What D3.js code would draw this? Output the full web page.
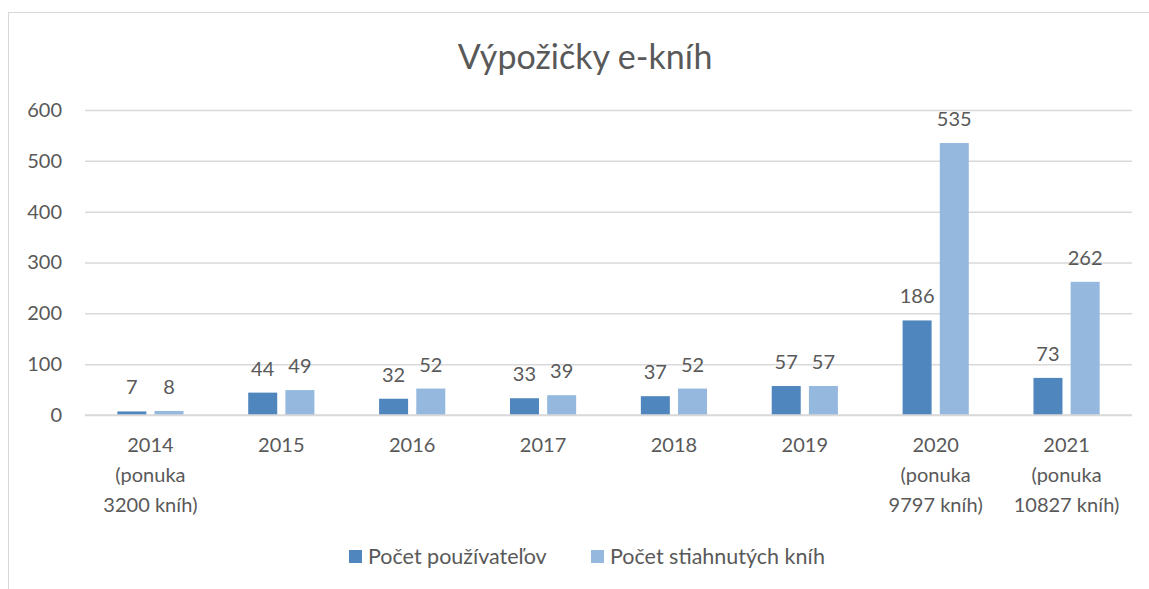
<!DOCTYPE html>
<html><head><meta charset="utf-8">
<script src="https://cdn.jsdelivr.net/npm/d3@7"></script>
<style>body{margin:0;background:#fff}svg text{font-family:Lato,"Open Sans",sans-serif;fill:#595959}</style>
</head><body><svg id="c" width="1149" height="589"></svg>
<script>
const categories = [["2014","(ponuka","3200 kníh)"],["2015"],["2016"],["2017"],["2018"],["2019"],["2020","(ponuka","9797 kníh)"],["2021","(ponuka","10827 kníh)"]];
const seriesNames = ["Počet používateľov","Počet stiahnutých kníh"];
const users = [7,44,32,33,37,57,186,73];
const downloads = [8,49,52,39,52,57,535,262];
const yTicks = [0,100,200,300,400,500,600];
const colors = ["#4f86bd","#95b8df"];

const svg = d3.select("#c");
svg.append("rect").attr("x",8.5).attr("y",12.5).attr("width",1160).attr("height",600).attr("fill","none").attr("stroke","#d9d9d9");

const x0 = d3.scaleBand().domain(d3.range(categories.length)).range([85,1132]);
const x1 = d3.scaleBand().domain([0,1]).range([0,x0.bandwidth()]).paddingInner(0.22).paddingOuter(0.87);
const y = d3.scaleLinear().domain([0,600]).range([415,110]);

const ya = svg.append("g").attr("transform","translate(85,0)").call(d3.axisLeft(y).tickValues(yTicks).tickSize(-1047).tickPadding(23));
ya.select(".domain").remove();
ya.selectAll("line").attr("stroke","#d9d9d9").attr("stroke-width",1.5);
ya.selectAll("text").attr("font-size",20).style("font-family","Lato,sans-serif").attr("fill","#595959");

const data = categories.map((c,i)=>[users[i],downloads[i]]);
const g = svg.append("g");
data.forEach((vals,i)=>{
  vals.forEach((v,j)=>{
    const bx = x0(i)+x1(j);
    g.append("rect").attr("x",bx).attr("y",y(v)).attr("width",x1.bandwidth()).attr("height",y(0)-y(v)).attr("fill",colors[j]);
    g.append("text").attr("x",bx+x1.bandwidth()/2).attr("y",y(v)-17).attr("text-anchor","middle").attr("font-size",20).text(v);
  });
});
svg.append("line").attr("x1",85).attr("x2",1132).attr("y1",y(0)).attr("y2",y(0)).attr("stroke","#d9d9d9").attr("stroke-width",1.5);

categories.forEach((lines,i)=>{
  const t = svg.append("text").attr("x",x0(i)+x0.bandwidth()/2).attr("y",452).attr("text-anchor","middle").attr("font-size",20);
  lines.forEach((l,k)=>t.append("tspan").attr("x",x0(i)+x0.bandwidth()/2).attr("dy",k?30:0).text(l));
});

svg.append("text").attr("x",585).attr("y",69).attr("text-anchor","middle").attr("font-size",34).text("Výpožičky e-kníh");

const lg = svg.append("g");
const lx = [349,591];
seriesNames.forEach((n,j)=>{
  lg.append("rect").attr("x",lx[j]).attr("y",550).attr("width",13).attr("height",13).attr("fill",colors[j]);
  lg.append("text").attr("x",lx[j]+19).attr("y",564).attr("font-size",21.5).text(n);
});
</script></body></html>
